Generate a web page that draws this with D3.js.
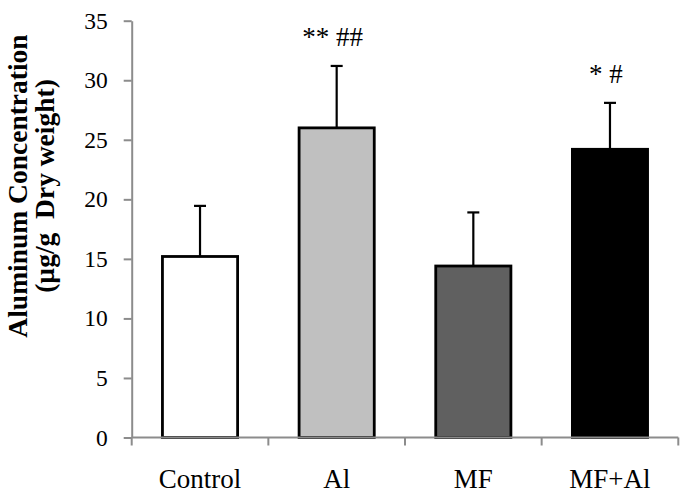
<!DOCTYPE html>
<html>
<head>
<meta charset="utf-8">
<script src="https://cdn.jsdelivr.net/npm/d3@7"></script>
<style>
  html, body { margin: 0; padding: 0; background: #fff; }
  svg { display: block; font-family: "Liberation Serif", "Times New Roman", serif; }
</style>
</head>
<body>
<div id="chart"></div>
<script>
const groups = ["Control", "Al", "MF", "MF+Al"];
const means = [15.2, 26.0, 14.4, 24.2];
const errors = [4.25, 5.2, 4.5, 3.9];
const marks = ["", "** ##", "", "* #"];
const fills = ["#ffffff", "#c0c0c0", "#606060", "#000000"];
const yTicks = [0, 5, 10, 15, 20, 25, 30, 35];
const yTitle = ["Aluminum Concentration", "(µg/g  Dry weight)"];

const width = 686;
const height = 495;
const margin = { top: 20.7, right: 7.7, bottom: 57.5, left: 131.7 };
const axisColor = "#8c8c8c";

const svg = d3.select("#chart")
  .append("svg")
  .attr("width", width)
  .attr("height", height);

const x = d3.scaleBand()
  .domain(groups)
  .range([margin.left, width - margin.right])
  .paddingInner(0.45)
  .paddingOuter(0.225);

const y = d3.scaleLinear()
  .domain([0, 35])
  .range([height - margin.bottom, margin.top]);

// bars
svg.append("g")
  .selectAll("rect")
  .data(groups)
  .join("rect")
  .attr("x", d => x(d))
  .attr("y", (d, i) => y(means[i]))
  .attr("width", x.bandwidth())
  .attr("height", (d, i) => y(0) - y(means[i]))
  .attr("fill", (d, i) => fills[i])
  .attr("stroke", "#000")
  .attr("stroke-width", 2.8);

// error bars (upper only)
const gErr = svg.append("g").attr("stroke", "#000").attr("stroke-width", 2.2);
groups.forEach((d, i) => {
  const cx = x(d) + x.bandwidth() / 2;
  gErr.append("line")
    .attr("x1", cx).attr("x2", cx)
    .attr("y1", y(means[i])).attr("y2", y(means[i] + errors[i]));
  gErr.append("line")
    .attr("x1", cx - 6).attr("x2", cx + 6)
    .attr("y1", y(means[i] + errors[i])).attr("y2", y(means[i] + errors[i]));
});

// significance marks
svg.append("g")
  .selectAll("text")
  .data(groups)
  .join("text")
  .attr("x", d => x(d) + x.bandwidth() / 2 - 4)
  .attr("y", (d, i) => y(means[i] + errors[i]) - 20)
  .attr("text-anchor", "middle")
  .attr("font-size", 27)
  .attr("fill", "#000")
  .style("white-space", "pre")
  .text((d, i) => marks[i]);

// y axis
const gY = svg.append("g")
  .attr("transform", `translate(${margin.left},0)`)
  .call(d3.axisLeft(y).tickValues(yTicks).tickSize(8).tickSizeOuter(0).tickPadding(16));
gY.select(".domain").attr("stroke", axisColor).attr("stroke-width", 2);
gY.selectAll(".tick line").attr("stroke", axisColor).attr("stroke-width", 2);
gY.selectAll(".tick text")
  .attr("font-size", 23.5)
  .attr("font-family", "Liberation Serif, serif")
  .attr("fill", "#000");

// x axis: line plus ticks at band boundaries
const gX = svg.append("g");
gX.append("line")
  .attr("x1", margin.left).attr("x2", width - margin.right)
  .attr("y1", y(0)).attr("y2", y(0))
  .attr("stroke", axisColor).attr("stroke-width", 2);
const bounds = [margin.left].concat(groups.map(d => x(d) + x.bandwidth() / 2 + x.step() / 2));
gX.selectAll(".xtick")
  .data(bounds)
  .join("line")
  .attr("class", "xtick")
  .attr("x1", d => d).attr("x2", d => d)
  .attr("y1", y(0)).attr("y2", y(0) + 8)
  .attr("stroke", axisColor).attr("stroke-width", 2);
gX.selectAll(".xlabel")
  .data(groups)
  .join("text")
  .attr("class", "xlabel")
  .attr("x", d => x(d) + x.bandwidth() / 2)
  .attr("y", y(0) + 50)
  .attr("text-anchor", "middle")
  .attr("font-size", 27)
  .attr("fill", "#000")
  .text(d => d);

// y title
svg.append("g")
  .attr("transform", "translate(27,186) rotate(-90)")
  .selectAll("text")
  .data(yTitle)
  .join("text")
  .attr("x", 0)
  .attr("y", (d, i) => i * 27)
  .attr("text-anchor", "middle")
  .attr("font-size", 27.5)
  .attr("font-weight", "bold")
  .attr("fill", "#000")
  .style("white-space", "pre")
  .text(d => d);
</script>
</body>
</html>
